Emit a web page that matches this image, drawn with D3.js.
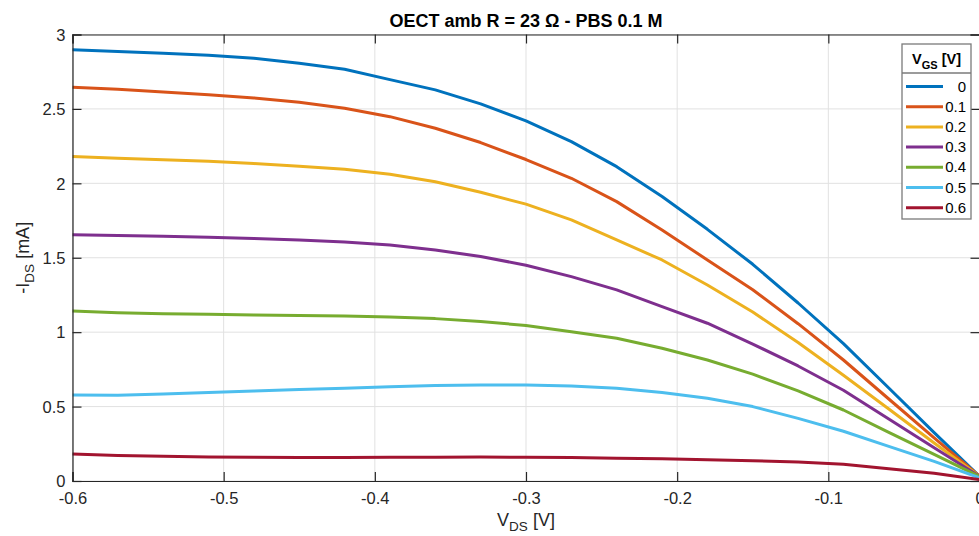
<!DOCTYPE html>
<html>
<head>
<meta charset="utf-8">
<script src="https://cdn.jsdelivr.net/npm/d3@7"></script>
<style>
  html, body { margin: 0; padding: 0; background: #fff; }
  svg { display: block; font-family: "Liberation Sans", Arial, Helvetica, sans-serif; }
</style>
</head>
<body>
<svg id="chart" width="979" height="536"></svg>
<script>
// ---- Data ----
const vds = [-0.6, -0.57, -0.54, -0.51, -0.48, -0.45, -0.42, -0.39, -0.36, -0.33, -0.30,
             -0.27, -0.24, -0.21, -0.18, -0.15, -0.12, -0.09, -0.06, -0.03, 0];
const vgsLabels = ["0", "0.1", "0.2", "0.3", "0.4", "0.5", "0.6"];
const ids_0   = [2.897, 2.885, 2.874, 2.861, 2.840, 2.807, 2.767, 2.697, 2.628, 2.534, 2.420, 2.280, 2.112, 1.911, 1.691, 1.456, 1.196, 0.923, 0.625, 0.325, 0.032];
const ids_0_1 = [2.645, 2.632, 2.614, 2.596, 2.574, 2.545, 2.505, 2.448, 2.370, 2.274, 2.160, 2.034, 1.877, 1.687, 1.485, 1.285, 1.057, 0.813, 0.551, 0.289, 0.032];
const ids_0_2 = [2.180, 2.168, 2.159, 2.148, 2.133, 2.114, 2.094, 2.061, 2.011, 1.940, 1.860, 1.754, 1.620, 1.485, 1.317, 1.135, 0.930, 0.710, 0.484, 0.255, 0.032];
const ids_0_3 = [1.655, 1.649, 1.644, 1.638, 1.629, 1.619, 1.606, 1.586, 1.552, 1.508, 1.450, 1.373, 1.284, 1.172, 1.060, 0.920, 0.773, 0.610, 0.417, 0.224, 0.032];
const ids_0_4 = [1.143, 1.131, 1.124, 1.120, 1.116, 1.112, 1.109, 1.102, 1.091, 1.071, 1.045, 1.003, 0.959, 0.892, 0.813, 0.718, 0.605, 0.477, 0.327, 0.179, 0.030];
const ids_0_5 = [0.578, 0.576, 0.585, 0.594, 0.605, 0.614, 0.623, 0.634, 0.641, 0.645, 0.645, 0.638, 0.623, 0.594, 0.556, 0.500, 0.421, 0.334, 0.233, 0.132, 0.022];
const ids_0_6 = [0.181, 0.172, 0.166, 0.162, 0.160, 0.158, 0.158, 0.159, 0.160, 0.161, 0.160, 0.158, 0.153, 0.150, 0.142, 0.136, 0.128, 0.112, 0.083, 0.052, 0.010];
const seriesValues = [ids_0, ids_0_1, ids_0_2, ids_0_3, ids_0_4, ids_0_5, ids_0_6];
const xTicks = [-0.6, -0.5, -0.4, -0.3, -0.2, -0.1, 0];
const yTicks = [0, 0.5, 1, 1.5, 2, 2.5, 3];
const colors = ["#0072BD", "#D95319", "#EDB120", "#7E2F8E", "#77AC30", "#4DBEEE", "#A2142F"];

// ---- Layout ----
const svg = d3.select("#chart");
const L = 72.5, R = 979.5, T = 34.5, B = 481;
const x = d3.scaleLinear().domain([-0.6, 0]).range([L, R]);
const y = d3.scaleLinear().domain([0, 3]).range([B, T]);
const axisColor = "#262626";
const tickLen = 9;
const fontFam = "'Liberation Sans', Arial, Helvetica, sans-serif";

// grid
const grid = svg.append("g");
grid.selectAll(".gx").data(xTicks).enter().append("line")
  .attr("x1", d => x(d)).attr("x2", d => x(d)).attr("y1", T).attr("y2", B)
  .attr("stroke", "#e1e1e1").attr("stroke-width", 1);
grid.selectAll(".gy").data(yTicks).enter().append("line")
  .attr("x1", L).attr("x2", R).attr("y1", d => y(d)).attr("y2", d => y(d))
  .attr("stroke", "#e1e1e1").attr("stroke-width", 1);

// lines
const line = d3.line().x((d, i) => x(vds[i])).y(d => y(d));
const lines = svg.append("g");
seriesValues.forEach((vals, k) => {
  lines.append("path").datum(vals)
    .attr("d", line)
    .attr("fill", "none")
    .attr("stroke", colors[k])
    .attr("stroke-width", 3)
    .attr("stroke-linejoin", "round")
    .attr("stroke-linecap", "butt");
});

// axes with inward ticks
const xAxis = svg.append("g").attr("transform", `translate(0,${B})`)
  .call(d3.axisBottom(x).tickValues(xTicks).tickSize(-tickLen).tickFormat(d => String(d)));
const xAxisTop = svg.append("g").attr("transform", `translate(0,${T})`)
  .call(d3.axisTop(x).tickValues(xTicks).tickSize(-tickLen).tickFormat(""));
const yAxis = svg.append("g").attr("transform", `translate(${L},0)`)
  .call(d3.axisLeft(y).tickValues(yTicks).tickSize(-tickLen).tickPadding(7).tickFormat(d => String(d)));
const yAxisRight = svg.append("g").attr("transform", `translate(${R},0)`)
  .call(d3.axisRight(y).tickValues(yTicks).tickSize(-tickLen).tickFormat(""));
[xAxis, xAxisTop, yAxis, yAxisRight].forEach(g => {
  g.selectAll("path.domain").attr("stroke", axisColor).attr("stroke-width", 1.2);
  g.selectAll(".tick line").attr("stroke", axisColor).attr("stroke-width", 1.2);
  g.selectAll(".tick text").attr("fill", axisColor).attr("font-size", 16.5)
    .attr("font-family", fontFam);
});
xAxis.selectAll(".tick text").attr("y", 23).attr("dy", 0);
yAxis.selectAll(".tick text").attr("x", -7).attr("dy", "0.35em");

// title
svg.append("text").attr("x", (L + R) / 2).attr("y", 27).attr("text-anchor", "middle")
  .attr("font-size", 18).attr("font-weight", "bold").attr("fill", "#000")
  .text("OECT amb R = 23 Ω - PBS 0.1 M");

// axis labels
const xl = svg.append("text").attr("x", (L + R) / 2).attr("y", 526).attr("text-anchor", "middle")
  .attr("font-size", 18).attr("fill", axisColor);
xl.append("tspan").text("V");
xl.append("tspan").attr("font-size", 13.5).attr("dy", 5).text("DS");
xl.append("tspan").attr("dy", -5).text(" [V]");

const yl = svg.append("text").attr("transform", `translate(29,${(T + B) / 2}) rotate(-90)`)
  .attr("text-anchor", "middle").attr("font-size", 18).attr("fill", axisColor);
yl.append("tspan").text("-I");
yl.append("tspan").attr("font-size", 13.5).attr("dy", 5).text("DS");
yl.append("tspan").attr("dy", -5).text(" [mA]");

// legend
const lg = svg.append("g");
const lx0 = 902, lx1 = 971, ly0 = 44, ly1 = 219, lsep = 73;
lg.append("rect").attr("x", lx0).attr("y", ly0).attr("width", lx1 - lx0).attr("height", ly1 - ly0)
  .attr("fill", "#fff").attr("stroke", "#7a7a7a").attr("stroke-width", 1.3);
lg.append("line").attr("x1", lx0).attr("x2", lx1).attr("y1", lsep).attr("y2", lsep)
  .attr("stroke", "#7a7a7a").attr("stroke-width", 1.3);
const lt = lg.append("text").attr("x", (lx0 + lx1) / 2).attr("y", 64).attr("text-anchor", "middle")
  .attr("font-size", 14.5).attr("font-weight", "bold").attr("fill", "#000");
lt.append("tspan").text("V");
lt.append("tspan").attr("font-size", 11).attr("dy", 5).text("GS");
lt.append("tspan").attr("dy", -5).text(" [V]");
vgsLabels.forEach((lab, k) => {
  const yy = 86.5 + k * 20.2;
  lg.append("line").attr("x1", 906).attr("x2", 943).attr("y1", yy).attr("y2", yy)
    .attr("stroke", colors[k]).attr("stroke-width", 3);
  lg.append("text").attr("x", 966).attr("y", yy + 5).attr("text-anchor", "end")
    .attr("font-size", 15).attr("fill", "#000").text(lab);
});
</script>
</body>
</html>
